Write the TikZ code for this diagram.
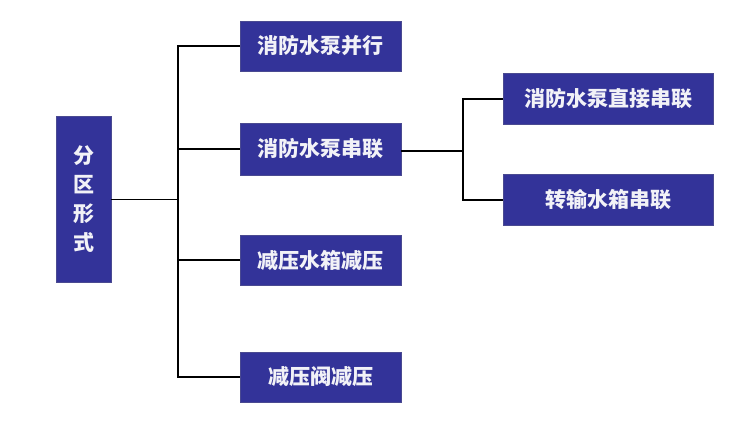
\documentclass[tikz,border=0pt]{standalone}
\usepackage{fontspec}
\newfontfamily\cjk{Noto Sans CJK SC}
\definecolor{boxblue}{HTML}{333399}
\definecolor{txt}{HTML}{F2F2F7}
\begin{document}
\begin{tikzpicture}[x=1pt,y=-1pt,
  box/.style={draw=boxblue!70!gray,line width=0.4pt,fill=boxblue,text=txt,inner sep=0pt,
    font=\cjk\bfseries\fontsize{21}{29}\selectfont},
  conn/.style={draw=black,line width=1.4pt}]
\useasboundingbox (0,0) rectangle (750,423);
\node[box,minimum width=55pt,minimum height=166pt,align=center] (root) at (83.5,199) {分\\区\\形\\式};
\node[box,minimum width=161pt,minimum height=50pt] (a) at (320.5,46) {消防水泵并行};
\node[box,minimum width=161pt,minimum height=52pt] (b) at (320.5,149) {消防水泵串联};
\node[box,minimum width=161pt,minimum height=50pt] (c) at (320.5,260) {减压水箱减压};
\node[box,minimum width=161pt,minimum height=50pt] (d) at (320.5,377) {减压阀减压};
\node[box,minimum width=210pt,minimum height=51pt] (e) at (608,99) {消防水泵直接串联};
\node[box,minimum width=210pt,minimum height=51pt] (f) at (608,200) {转输水箱串联};
\coordinate (t) at (178,199);
\coordinate (u) at (463,151);
\draw[line width=1pt] (root.east) -- (t);
\draw[conn] (a.west) -| (t |- a.west) -- (t |- d.west) -- (d.west);
\draw[conn] (t |- b.west) -- (b.west);
\draw[conn] (t |- c.west) -- (c.west);
\draw[conn] (b.east |- u) -- (u);
\draw[conn] (e.west) -| (u |- e.west) -- (u |- f.west) -- (f.west);
\end{tikzpicture}
\end{document}
